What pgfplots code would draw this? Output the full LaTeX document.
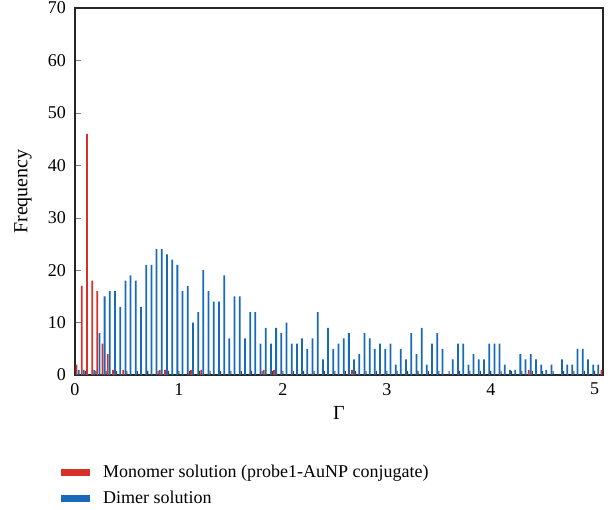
\documentclass[border=0pt]{standalone}
\usepackage{fontspec}
\setmainfont{Liberation Serif}
\usepackage{pgfplots}
\pgfplotsset{compat=1.18}
\definecolor{mred}{RGB}{214,48,40}
\definecolor{mblue}{RGB}{22,106,184}

% monomer solution: slot centres 0.015 + 0.05k, only non-empty bins
\pgfplotstableread{
x      y
0.015  2
0.065  17
0.115  46
0.165  18
0.215  16
0.265  6
0.315  4
0.365  1
0.465  1
0.815  1
0.865  1
1.115  1
1.215  1
1.815  1
1.915  1
2.665  1
4.365  1
5.065  1
}\monomer

% dimer solution: slot centres 0.035 + 0.05k
\pgfplotstableread{
x      y
0.035  1
0.085  1
0.135  0
0.185  1
0.235  8
0.285  15
0.335  16
0.385  16
0.435  13
0.485  18
0.535  19
0.585  18
0.635  13
0.685  21
0.735  21
0.785  24
0.835  24
0.885  23
0.935  22
0.985  21
1.035  16
1.085  17
1.135  10
1.185  12
1.235  20
1.285  16
1.335  14
1.385  14
1.435  19
1.485  7
1.535  15
1.585  15
1.635  7
1.685  12
1.735  12
1.785  6
1.835  9
1.885  6
1.935  9
1.985  8
2.035  10
2.085  6
2.135  6
2.185  7
2.235  5
2.285  7
2.335  12
2.385  3
2.435  9
2.485  5
2.535  6
2.585  7
2.635  8
2.685  3
2.735  4
2.785  8
2.835  7
2.885  5
2.935  6
2.985  5
3.035  6
3.085  2
3.135  5
3.185  3
3.235  8
3.285  4
3.335  9
3.385  2
3.435  6
3.485  8
3.535  5
3.585  0
3.635  3
3.685  6
3.735  6
3.785  2
3.835  4
3.885  3
3.935  3
3.985  6
4.035  6
4.085  6
4.135  2
4.185  1
4.235  1
4.285  4
4.335  3
4.385  4
4.435  3
4.485  2
4.535  1
4.585  2
4.635  0
4.685  3
4.735  2
4.785  2
4.835  5
4.885  5
4.935  3
4.985  2
5.035  2
}\dimer

% small dark marks along the base line
\pgfplotstableread{
x    y
0.1  0.8
0.2  0.8
0.3  0.8
0.4  0.8
0.5  0.8
0.6  0.8
0.7  0.8
0.8  0.8
0.9  0.8
1.0  0.8
1.1  0.8
1.2  0.8
1.3  0.8
1.4  0.8
1.5  0.8
1.6  0.8
1.7  0.8
1.8  0.8
1.9  0.8
2.0  0.8
2.1  0.8
2.2  0.8
2.3  0.8
2.4  0.8
2.5  0.8
2.6  0.8
2.7  0.8
2.8  0.8
2.9  0.8
3.0  0.8
3.1  0.8
3.2  0.8
3.3  0.8
3.4  0.8
3.5  0.8
3.6  0.8
3.7  0.8
3.8  0.8
3.9  0.8
4.0  0.8
4.1  0.8
4.2  0.8
4.3  0.8
4.4  0.8
4.5  0.8
4.6  0.8
4.7  0.8
4.8  0.8
4.9  0.8
5.0  0.8
}\marks

\begin{document}
\fontsize{18bp}{21bp}\selectfont
\begin{tikzpicture}
\begin{axis}[
    scale only axis,
    width=528bp, height=367bp,
    xmin=0, xmax=5.08,
    ymin=0, ymax=70,
    xtick={0,1,2,3,4,5},
    ytick={0,10,...,70},
    tick pos=left,
    tick align=inside,
    major tick length=6bp,
    xtick style={draw=none},
    axis line style={line width=1.1bp, black!85},
    /pgf/number format/assume math mode=true,
    tick label style={font=\fontsize{18bp}{21bp}\selectfont},
    xticklabel style={yshift=-2bp},
    yticklabel style={xshift=-3bp},
    label style={font=\fontsize{20bp}{24bp}\selectfont},
    xlabel={Γ},
    ylabel={Frequency},
    xlabel style={yshift=1bp},
    ylabel style={yshift=4bp},
    legend cell align=left,
    legend style={at={(0,0)}, anchor=north west, xshift=-17bp, yshift=-86bp,
        draw=none, fill=none, font=\fontsize{18bp}{21bp}\selectfont,
        row sep=7bp,
        /tikz/every even column/.append style={column sep=6bp},
        nodes={inner sep=2bp}},
]
    \addplot[ybar, bar shift=0pt, bar width=0.017, fill=mred, draw=none,
        legend image code/.code={\fill[mred] (0bp,-3.5bp) rectangle (29bp,3.5bp);}]
        table[x=x, y=y] {\monomer};
    \addlegendentry{\hspace{11bp}Monomer solution (probe1-AuNP conjugate)}

    \addplot[ybar, bar shift=0pt, bar width=0.017, fill=mblue, draw=none,
        legend image code/.code={\fill[mblue] (0bp,-3.5bp) rectangle (29bp,3.5bp);}]
        table[x=x, y=y] {\dimer};
    \addlegendentry{\hspace{11bp}Dimer solution}

    \addplot[ybar, bar shift=0pt, bar width=0.01, fill=black!75, draw=none, forget plot]
        table[x=x, y=y] {\marks};
\end{axis}
\pgfresetboundingbox
\path ([xshift=-75bp, yshift=8bp]current axis.north west)
    rectangle ([xshift=11bp, yshift=-135bp]current axis.south east);
\end{tikzpicture}
\end{document}
